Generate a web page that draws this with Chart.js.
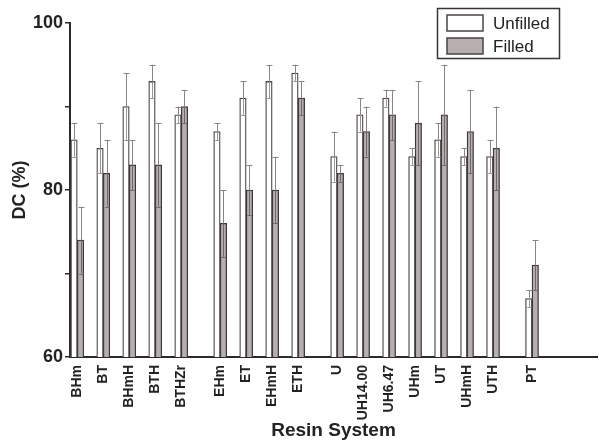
<!DOCTYPE html>
<html>
<head>
<meta charset="utf-8">
<script src="https://cdn.jsdelivr.net/npm/chart.js@4"></script>
<style>
  html, body { margin: 0; padding: 0; background: #fff; }
  #wrap { width: 599px; height: 441px; }
</style>
</head>
<body>
<div id="wrap"><canvas id="myChart" width="599" height="441"></canvas></div>
<script>
// categories and the group each one belongs to (gap between groups)
const labels = ['BHm', 'BT', 'BHmH', 'BTH', 'BTHZr',
                'EHm', 'ET', 'EHmH', 'ETH',
                'U', 'UH14.00', 'UH6.47', 'UHm', 'UT', 'UHmH', 'UTH',
                'PT'];
const groups = [0, 0, 0, 0, 0, 1, 1, 1, 1, 2, 2, 2, 2, 2, 2, 2, 3];

// degree of conversion (%) and error
const unfilled    = [86, 85, 90, 93, 89, 87, 91, 93, 94, 84, 89, 91, 84, 86, 84, 84, 67];
const unfilledErr = [2, 3, 4, 2, 1, 1, 2, 2, 1, 3, 2, 1, 1, 2, 1, 2, 1];
const filled      = [74, 82, 83, 83, 90, 76, 80, 80, 91, 82, 87, 89, 88, 89, 87, 85, 71];
const filledErr   = [4, 4, 3, 5, 2, 4, 3, 4, 2, 1, 3, 3, 5, 6, 5, 5, 3];

const yTicks = [60, 70, 80, 90, 100];
const yLabelled = [60, 80, 100];

// x position of each category: its index plus half a slot per group gap
const xs = labels.map((l, i) => i + groups[i] * 0.5);

const FONT = '"Liberation Sans", Arial, sans-serif';

const errorBars = {
    id: 'errorBars',
    afterDatasetsDraw(chart) {
        const ctx = chart.ctx;
        const y = chart.scales.y;
        const errs = [unfilledErr, filledErr];
        ctx.save();
        chart.data.datasets.forEach((ds, di) => {
            const meta = chart.getDatasetMeta(di);
            meta.data.forEach((bar, i) => {
                const v = ds.data[i].y;
                const e = errs[di][i];
                const top = y.getPixelForValue(v + e);
                const mid = y.getPixelForValue(v);
                const bot = y.getPixelForValue(v - e);
                const cx = Math.round(bar.x) + 0.5;
                const half = bar.width / 2 - 1;
                ctx.lineWidth = 1;
                // part above the bar
                ctx.strokeStyle = '#8a8585';
                ctx.beginPath();
                ctx.moveTo(cx, mid);
                ctx.lineTo(cx, top);
                ctx.moveTo(cx - 3, Math.round(top) + 0.5);
                ctx.lineTo(cx + 3, Math.round(top) + 0.5);
                ctx.stroke();
                // part inside the bar
                ctx.strokeStyle = di === 0 ? '#9a9595' : '#6e6868';
                ctx.beginPath();
                ctx.moveTo(cx, mid);
                ctx.lineTo(cx, bot);
                ctx.moveTo(cx - half, Math.round(bot) + 0.5);
                ctx.lineTo(cx + half, Math.round(bot) + 0.5);
                ctx.stroke();
            });
        });
        ctx.restore();
    }
};

const boxLegend = {
    id: 'boxLegend',
    afterDraw(chart) {
        const ctx = chart.ctx;
        ctx.save();
        ctx.lineWidth = 1.5;
        ctx.strokeStyle = '#3a3434';
        ctx.strokeRect(437.5, 8.5, 122, 50);
        ctx.lineWidth = 1.5;
        ctx.strokeStyle = '#4a4444';
        ctx.fillStyle = '#ffffff';
        ctx.fillRect(447, 15, 36, 16);
        ctx.strokeRect(447, 15, 36, 16);
        ctx.fillStyle = '#b7afaf';
        ctx.fillRect(447, 38, 36, 16);
        ctx.strokeRect(447, 38, 36, 16);
        ctx.fillStyle = '#222';
        ctx.font = '17px ' + FONT;
        ctx.textBaseline = 'middle';
        ctx.fillText('Unfilled', 493, 24);
        ctx.fillText('Filled', 493, 47);
        ctx.restore();
    }
};

const ctx = document.getElementById('myChart').getContext('2d');
const chart = new Chart(ctx, {
    type: 'bar',
    data: {
        datasets: [{
            label: 'Unfilled',
            data: xs.map((x, i) => ({ x: x, y: unfilled[i] })),
            backgroundColor: '#ffffff',
            borderColor: '#4a4444',
            borderWidth: 1.3,
            borderSkipped: 'bottom'
        }, {
            label: 'Filled',
            data: xs.map((x, i) => ({ x: x, y: filled[i] })),
            backgroundColor: '#b7afaf',
            borderColor: '#3e3838',
            borderWidth: 1.3,
            borderSkipped: 'bottom'
        }]
    },
    options: {
        responsive: false,
        animation: false,
        barThickness: 6.5,
        layout: { padding: { top: 23, right: 2, left: 0, bottom: 0 } },
        plugins: {
            legend: { display: false },
            tooltip: { enabled: false }
        },
        scales: {
            x: {
                type: 'linear',
                min: -0.28,
                max: 20,
                offset: false,
                grid: { display: false },
                border: { display: true, color: '#2a2a2a', width: 2 },
                afterBuildTicks: axis => { axis.ticks = xs.map(v => ({ value: v })); },
                afterFit: axis => { axis.height = 84; },
                ticks: {
                    autoSkip: false,
                    minRotation: 90,
                    maxRotation: 90,
                    padding: 0,
                    color: '#222',
                    font: { family: FONT, size: 14, weight: 'bold' },
                    callback: value => {
                        const i = xs.indexOf(value);
                        return i >= 0 ? labels[i] : '';
                    }
                },
                title: {
                    display: true,
                    text: 'Resin System',
                    color: '#222',
                    padding: { top: 0, bottom: -1 },
                    font: { family: FONT, size: 19, weight: 'bold' }
                }
            },
            y: {
                min: 60,
                max: 100,
                grid: { display: true, drawOnChartArea: false, tickLength: 5, color: '#2a2a2a', lineWidth: 1.5 },
                border: { display: true, color: '#2a2a2a', width: 2 },
                afterBuildTicks: axis => { axis.ticks = yTicks.map(v => ({ value: v })); },
                afterFit: axis => { axis.width = 70; },
                ticks: {
                    padding: 2,
                    color: '#222',
                    font: { family: FONT, size: 18, weight: 'bold' },
                    callback: value => yLabelled.includes(value) ? String(value) : ''
                },
                title: {
                    display: true,
                    text: 'DC (%)',
                    color: '#222',
                    padding: { top: 9, bottom: 4 },
                    font: { family: FONT, size: 18, weight: 'bold' }
                }
            }
        }
    },
    plugins: [errorBars, boxLegend]
});
</script>
</body>
</html>
